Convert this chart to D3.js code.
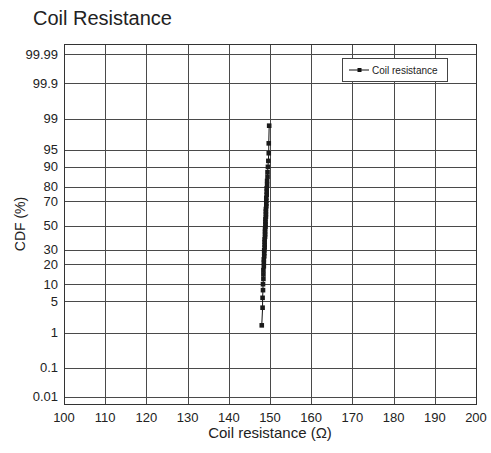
<!DOCTYPE html>
<html><head><meta charset="utf-8">
<script src="https://cdn.jsdelivr.net/npm/d3@7"></script>
<style>body{margin:0;background:#fff}svg{display:block;font-family:"Liberation Sans",Arial,sans-serif}</style>
</head><body><svg id="c" width="491" height="453"></svg>
<script>
const xTicks = [100,110,120,130,140,150,160,170,180,190,200];
const yTickLabels = ["0.01","0.1","1","5","10","20","30","50","70","80","90","95","99","99.9","99.99"];
const yTicks = [0.01,0.1,1,5,10,20,30,50,70,80,90,95,99,99.9,99.99];
const resistance = [148.0,148.2,148.2,148.3,148.3,148.4,148.4,148.4,148.5,148.5,148.5,148.6,148.6,148.6,148.7,148.7,148.7,148.7,148.8,148.8,148.8,148.8,148.9,148.9,148.9,148.9,149.0,149.0,149.0,149.0,149.1,149.1,149.1,149.1,149.2,149.2,149.2,149.3,149.3,149.4,149.4,149.5,149.6,149.7,149.7,149.8];
const cdf = [1.5,3.7,5.8,8.0,10.1,12.3,14.4,16.6,18.8,20.9,23.1,25.2,27.4,29.5,31.7,33.8,36.0,38.2,40.3,42.5,44.6,46.8,48.9,51.1,53.2,55.4,57.5,59.7,61.9,64.0,66.2,68.3,70.5,72.6,74.8,76.9,79.1,81.2,83.4,85.6,87.7,89.9,92.0,94.2,96.3,98.5];
const seriesName = "Coil resistance";

// inverse normal CDF (Acklam)
function probit(p){
  const a=[-3.969683028665376e+01,2.209460984245205e+02,-2.759285104469687e+02,1.383577518672690e+02,-3.066479806614716e+01,2.506628277459239e+00];
  const b=[-5.447609879822406e+01,1.615858368580409e+02,-1.556989798598866e+02,6.680131188771972e+01,-1.328068155288572e+01];
  const c=[-7.784894002430293e-03,-3.223964580411365e-01,-2.400758277161838e+00,-2.549732539343734e+00,4.374664141464968e+00,2.938163982698783e+00];
  const d=[7.784695709041462e-03,3.224671290700398e-01,2.445134137142996e+00,3.754408661907416e+00];
  const pl=0.02425;let q,r;
  if(p<pl){q=Math.sqrt(-2*Math.log(p));return (((((c[0]*q+c[1])*q+c[2])*q+c[3])*q+c[4])*q+c[5])/((((d[0]*q+d[1])*q+d[2])*q+d[3])*q+1);}
  if(p>1-pl){q=Math.sqrt(-2*Math.log(1-p));return -(((((c[0]*q+c[1])*q+c[2])*q+c[3])*q+c[4])*q+c[5])/((((d[0]*q+d[1])*q+d[2])*q+d[3])*q+1);}
  q=p-0.5;r=q*q;return (((((a[0]*r+a[1])*r+a[2])*r+a[3])*r+a[4])*r+a[5])*q/(((((b[0]*r+b[1])*r+b[2])*r+b[3])*r+b[4])*r+1);
}

const L=64,R=476,T=44,B=404;
const svg=d3.select("#c");
const x=d3.scaleLinear().domain([100,200]).range([L,R]);
const zs=d3.scaleLinear().domain([-3.88,3.946]).range([B,T]);
const y=v=>zs(probit(v/100));

// grid
const g=svg.append("g");
g.selectAll("line.v").data(xTicks).join("line")
  .attr("x1",d=>Math.round(x(d))+0.5).attr("x2",d=>Math.round(x(d))+0.5)
  .attr("y1",T).attr("y2",B).attr("stroke","#4a4a4a").attr("stroke-width",1);
g.selectAll("line.h").data(yTicks).join("line")
  .attr("y1",d=>Math.round(y(d))+0.5).attr("y2",d=>Math.round(y(d))+0.5)
  .attr("x1",L).attr("x2",R).attr("stroke","#4a4a4a").attr("stroke-width",1);
svg.append("rect").attr("x",L+0.5).attr("y",T+0.5).attr("width",R-L).attr("height",B-T)
  .attr("fill","none").attr("stroke","#333").attr("stroke-width",1);

// tick labels
svg.append("g").selectAll("text").data(xTicks).join("text")
  .attr("x",d=>x(d)).attr("y",B+18).attr("text-anchor","middle")
  .attr("font-size",13).attr("fill","#222").text(d=>d);
svg.append("g").selectAll("text").data(yTicks).join("text")
  .attr("x",L-6).attr("y",d=>y(d)+4.5).attr("text-anchor","end")
  .attr("font-size",13).attr("fill","#222").text((d,i)=>yTickLabels[i]);

// titles
svg.append("text").attr("x",33).attr("y",25).attr("font-size",20).attr("fill","#222").text("Coil Resistance");
svg.append("text").attr("x",(L+R)/2).attr("y",438).attr("text-anchor","middle").attr("font-size",15).attr("fill","#222").text("Coil resistance (Ω)");
svg.append("text").attr("transform","translate(25,"+((T+B)/2)+") rotate(-90)").attr("text-anchor","middle").attr("font-size",14).attr("fill","#222").text("CDF (%)");

// data
const pts=resistance.map((r,i)=>({r,c:cdf[i]}));
svg.append("path").datum(pts).attr("fill","none").attr("stroke","#111").attr("stroke-width",1)
  .attr("d",d3.line().x(d=>x(d.r)).y(d=>y(d.c)));
svg.append("g").selectAll("rect").data(pts).join("rect")
  .attr("x",d=>x(d.r)-2.3).attr("y",d=>y(d.c)-2.3).attr("width",4.6).attr("height",4.6).attr("fill","#1a1a1a");

// legend
const lg=svg.append("g");
lg.append("rect").attr("x",342.5).attr("y",58.5).attr("width",105).attr("height",23).attr("fill","#fff").attr("stroke","#444");
lg.append("line").attr("x1",349).attr("x2",369).attr("y1",70).attr("y2",70).attr("stroke","#111");
lg.append("rect").attr("x",357.5).attr("y",68).attr("width",4).attr("height",4).attr("fill","#111");
lg.append("text").attr("x",372).attr("y",73.5).attr("font-size",10).attr("fill","#222").text(seriesName);
</script></body></html>
